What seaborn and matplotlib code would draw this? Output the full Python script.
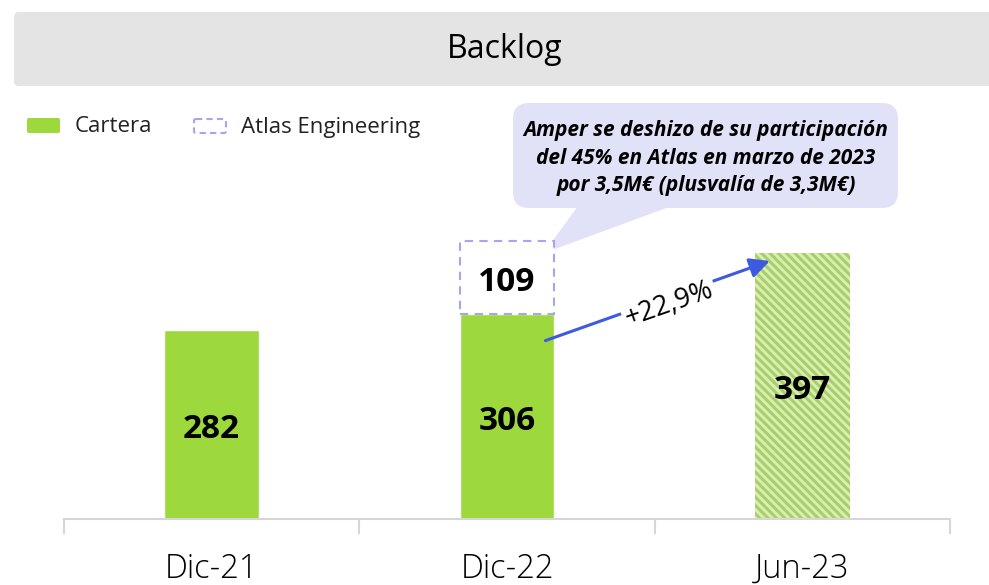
import numpy as np
import pandas as pd
import matplotlib
matplotlib.use("Agg")
import matplotlib.pyplot as plt
import seaborn as sns
from matplotlib.patches import FancyBboxPatch, Polygon

# ---- data ----
categories = ["Dic-21", "Dic-22", "Jun-23"]
cartera = [282, 306, 397]
atlas = [0, 109, 0]
growth_label = "+22,9%"
title = "Backlog"
legend_labels = ["Cartera", "Atlas Engineering"]
note = ("Amper se deshizo de su participación\n"
        "del 45% en Atlas en marzo de 2023\n"
        "por 3,5M€ (plusvalía de 3,3M€)")

GREEN = "#9dd83c"
HATCH_BG = "#d9efb3"
HATCH_FG = "#a9cf6c"
LAV = "#a6a6ee"
CALLOUT = "#e1e2f7"
ARROW = "#3d5ae0"

sns.set_theme(style="white")
plt.rcParams["font.family"] = ["Open Sans", "DejaVu Sans"]
plt.rcParams["hatch.linewidth"] = 2.2

W, H = 989, 585
fig = plt.figure(figsize=(W / 100, H / 100), dpi=100)

# overlay in pixel coords for decorations
ov = fig.add_axes([0, 0, 1, 1], zorder=0)
ov.set_xlim(0, W)
ov.set_ylim(H, 0)
ov.axis("off")

ax = fig.add_axes([64 / W, 66 / H, 886 / W, 301.5 / H], zorder=1)
ax.patch.set_alpha(0)

df = pd.DataFrame({"Periodo": categories, "Cartera": cartera})
sns.barplot(data=df, x="Periodo", y="Cartera", color=GREEN, saturation=1,
            width=0.32, ax=ax, errorbar=None)
bars = ax.patches
# projected (last) bar hatched
last = bars[len(categories) - 1]
last.set_facecolor(HATCH_BG)
last.set_edgecolor(HATCH_FG)
last.set_linewidth(0)
last.set_hatch("\\\\\\\\")

idx = [i for i, v in enumerate(atlas) if v > 0]
ax.bar(idx, [atlas[i] for i in idx], bottom=[cartera[i] for i in idx],
       width=0.32, facecolor="white", edgecolor=LAV, linestyle=(0, (4, 3)),
       linewidth=1.5, zorder=3)

LBL_SHIFT = 7  # data units; digits sit slightly below the bar middle
for i, v in enumerate(cartera):
    ax.text(i, v / 2 - LBL_SHIFT, f"{v}", ha="center", va="center",
            fontsize=24, fontweight="bold", color="black", zorder=5)
for i in idx:
    ax.text(i, cartera[i] + atlas[i] / 2 - LBL_SHIFT, f"{atlas[i]}",
            ha="center", va="center", fontsize=24, fontweight="bold",
            color="black", zorder=5)

# growth arrow from Dic-22 bar to Jun-23 bar
x0, y0 = 1 + 0.13, cartera[1] * 0.87
x1, y1 = 2 - 0.11, cartera[2] * 0.97
ax.annotate("", xy=(x1, y1), xytext=(x0, y0),
            arrowprops=dict(arrowstyle="-|>", color=ARROW, lw=2.2,
                            mutation_scale=30, shrinkA=0, shrinkB=0), zorder=4)
ax.text((x0 + x1) / 2 + 0.04, (y0 + y1) / 2 - 6, growth_label, rotation=19.3,
        rotation_mode="anchor", ha="center", va="center", fontsize=19.5,
        color="black", zorder=6,
        bbox=dict(facecolor="white", edgecolor="none", pad=2))

ax.set_xlim(-0.5, 2.5)
ax.set_ylim(0, 450)
ax.set_yticks([])
ax.set_xlabel("")
ax.set_ylabel("")
ax.set_xticks(range(len(categories)))
ax.set_xticklabels(categories)
ax.set_xticks([-0.5, 0.5, 1.5, 2.5], minor=True)
ax.tick_params(axis="x", which="major", length=0, labelsize=23.5, pad=24,
               labelcolor="black")
ax.tick_params(axis="x", which="minor", length=11, width=1.5,
               color="#d6d6d6", direction="out", bottom=True)
for lab in ax.get_xticklabels():
    lab.set_fontweight("light")
for s in ["left", "right", "top"]:
    ax.spines[s].set_visible(False)
ax.spines["bottom"].set_color("#d6d6d6")
ax.spines["bottom"].set_linewidth(1.5)

# title bar
ov.add_patch(FancyBboxPatch((14, 12), W, 74,
                            boxstyle="round,pad=0,rounding_size=5",
                            facecolor="#e4e4e4", edgecolor="none"))
ov.text(505, 50, title, ha="center", va="center", fontsize=23, color="black")

# legend
ov.add_patch(FancyBboxPatch((27, 118), 33, 15,
                            boxstyle="round,pad=0,rounding_size=2",
                            facecolor=GREEN, edgecolor="none"))
ov.text(75, 127, legend_labels[0], ha="left", va="center", fontsize=16,
        color="#222222")
ov.add_patch(FancyBboxPatch((194, 119), 32, 14,
                            boxstyle="round,pad=0,rounding_size=2",
                            facecolor="white", edgecolor=LAV,
                            linestyle=(0, (3, 2)), linewidth=1.5))
ov.text(241, 127, legend_labels[1], ha="left", va="center", fontsize=16,
        color="#222222")

# callout
ov.add_patch(FancyBboxPatch((513, 103), 385, 105,
                            boxstyle="round,pad=0,rounding_size=16",
                            facecolor=CALLOUT, edgecolor="none"))
ov.add_patch(Polygon([(578, 206), (672, 206), (544, 253)], closed=True,
                     facecolor=CALLOUT, edgecolor="none"))
ov.text(706, 158, note, ha="center", va="center", fontsize=15,
        fontweight="bold", fontstyle="italic", color="black",
        linespacing=1.4)

fig.savefig("out.png", dpi=100)
